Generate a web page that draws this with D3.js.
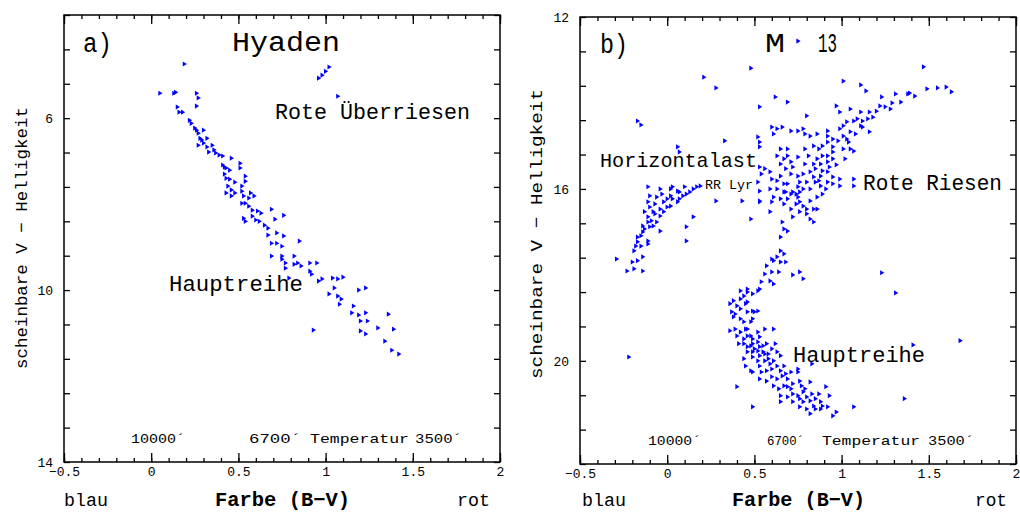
<!DOCTYPE html>
<html><head><meta charset="utf-8">
<script src="https://cdn.jsdelivr.net/npm/d3@7"></script>
<style>
body{margin:0;background:#fff}
svg{display:block}
text{font-family:"Liberation Mono","DejaVu Sans Mono",monospace;fill:#000}
</style>
</head><body>
<svg id="c" width="1020" height="514"></svg>
<script>
// ---------- tick labels ----------
const xTickValues = [-0.5, 0, 0.5, 1, 1.5, 2];
const xTickLabels = ["−0.5", "0", "0.5", "1", "1.5", "2"];
const leftYTicks = [3.6, 4.4, 5.2, 6, 6.8, 7.6, 8.4, 9.2, 10, 10.8, 11.6, 12.4, 13.2, 14];
const leftYLabelled = [6, 10, 14];
const rightYTicks = [12, 12.8, 13.6, 14.4, 15.2, 16, 16.8, 17.6, 18.4, 19.2, 20, 20.8, 21.6, 22.4];
const rightYLabelled = [12, 16, 20];
const tempLabels = ["10000´", "6700´", "Temperatur", "3500´"];

// ---------- data: Hyaden [B-V, V] ----------
const hyadenMS = [
[0.19,4.74],[0.05,5.42],[0.13,5.42],[0.14,5.40],[0.26,5.42],[0.27,5.53],[0.26,5.72],[0.15,5.74],
[0.16,5.86],[0.18,5.86],[0.22,6.05],[0.23,6.12],[0.25,6.23],[0.26,6.28],[0.27,6.35],[0.28,6.47],
[0.29,6.51],[0.32,6.47],[0.27,6.63],[0.30,6.58],[0.32,6.67],[0.33,6.79],[0.35,6.63],[0.37,6.81],
[0.39,6.86],[0.41,6.88],[0.46,6.93],[0.41,7.09],[0.42,7.14],[0.43,7.16],[0.51,7.05],[0.51,7.16],
[0.42,7.30],[0.43,7.40],[0.45,7.42],[0.54,7.35],[0.54,7.47],[0.44,7.58],[0.46,7.67],[0.48,7.74],
[0.43,7.74],[0.46,7.81],[0.52,7.58],[0.52,7.70],[0.53,7.81],[0.57,7.74],[0.59,7.81],[0.52,7.98],
[0.54,7.98],[0.56,8.05],[0.58,8.14],[0.61,8.16],[0.69,8.12],[0.53,8.33],[0.54,8.40],[0.58,8.28],
[0.60,8.37],[0.62,8.40],[0.65,8.49],[0.67,8.56],[0.71,8.35],[0.76,8.26],[0.67,8.72],[0.76,8.74],
[0.69,8.91],[0.72,8.91],[0.75,8.98],[0.85,8.86],[0.69,9.21],[0.75,9.21],[0.75,9.28],[0.77,9.37],
[0.77,9.49],[0.82,9.40],[0.84,9.37],[0.86,9.44],[0.91,9.37],[0.95,9.37],[0.79,9.72],[0.91,9.56],
[0.92,9.63],[0.96,9.79],[0.98,9.74],[1.04,9.72],[1.07,9.74],[1.10,9.70],[1.02,10.09],[1.07,10.14],
[1.09,10.21],[1.08,10.33],[1.19,10.00],[1.23,9.95],[1.15,10.53],[1.19,10.58],[1.20,10.72],[1.23,10.53],
[1.24,10.72],[1.20,10.95],[1.23,11.02],[1.36,10.56],[1.30,10.88],[1.39,10.91],[0.93,10.93],[1.34,11.19],
[1.38,11.40],[1.42,11.49],[0.45,7.21],[0.48,7.49],[0.63,8.21],[0.56,7.86],[0.82,9.21],[0.30,6.28],
[0.36,6.74],[0.72,8.67],[1.05,9.95],[1.16,10.37]
];
const hyadenGiants = [[0.96,5.07],[0.98,5.00],[1.00,4.91],[1.02,4.81],[1.07,5.49]];

// ---------- data: M 13 [B-V, V] ----------
const m13Giants = [
[0.62,13.86],[1.01,13.49],[1.11,13.58],[1.14,13.72],[1.23,13.86],[1.31,13.79],[1.38,13.79],[1.39,13.77],
[1.47,13.16],[1.49,13.67],[1.55,13.65],[1.60,13.63],[1.63,13.74],[0.69,13.98],[0.53,14.09],[0.97,14.07],
[0.99,14.21],[1.05,14.14],[0.80,14.30],[1.22,14.07],[1.25,14.09],[1.29,14.00],[1.20,14.19],[1.16,14.21],
[1.11,14.21],[1.12,14.42],[1.09,14.37],[1.07,14.42],[1.11,14.53],[1.15,14.37],[1.16,14.67],[1.01,14.53],
[1.03,14.44],[0.99,14.60],[1.01,14.77],[1.05,14.67],[0.98,14.88],[1.03,14.84],[0.60,14.56],[0.63,14.60],
[0.66,14.56],[0.61,14.72],[0.71,14.65],[0.75,14.65],[0.78,14.60],[0.79,14.72],[0.82,14.77],[0.86,14.72],
[0.92,14.65],[0.92,14.77],[0.95,14.84],[0.52,14.79],[0.53,14.91],[0.53,15.02],[0.06,15.02],[0.07,15.14],
[0.65,15.07],[0.69,15.07],[0.63,15.23],[0.67,15.30],[0.69,15.23],[0.71,15.37],[0.65,15.42],[0.68,15.53],
[0.72,15.49],[0.75,15.26],[0.84,15.00],[0.87,15.07],[0.89,15.00],[0.92,14.91],[0.95,15.02],[0.95,15.14],
[0.92,15.23],[0.89,15.23],[0.86,15.30],[0.84,15.42],[0.88,15.42],[0.92,15.37],[0.95,15.30],[1.01,15.07],
[1.05,15.07],[1.07,15.12],[0.53,15.49],[0.56,15.53],[0.54,15.65],[0.59,15.60],[0.60,15.77],[0.75,15.70],
[0.78,15.65],[0.82,15.60],[0.84,15.72],[0.88,15.70],[0.92,15.60],[0.85,15.84],[0.80,15.84],[0.76,15.84],
[0.75,15.95],[0.78,16.00],[0.82,16.00],[0.88,15.93],[0.92,15.84],[0.95,15.72],[0.65,15.70],[0.63,15.81],
[0.67,15.88],[0.63,16.00],[0.67,16.07],[0.99,15.77],[0.99,15.93],[1.07,15.77],[1.07,15.93],[0.68,16.07],
[0.71,16.12],[0.72,16.07],[0.76,16.07],[0.65,16.23],[0.67,16.35],[0.69,16.23],[0.75,16.19],[0.76,16.30],
[0.78,16.40],[0.82,16.28],[0.84,16.47],[0.80,16.47],[0.76,16.53],[0.80,16.58],[0.86,16.47],[0.72,16.65],
[0.84,16.77],[0.59,16.00],[0.61,16.19],[0.60,16.30],[0.59,16.53],[0.53,16.05],[0.53,16.28],[0.43,16.28],
[0.48,16.70],[0.53,16.30],[0.52,15.84],[0.66,16.77],[0.67,16.93],[0.69,16.98],[0.65,17.12],[0.82,16.70],
[0.79,15.07],[0.81,15.23],[0.85,15.53],[0.89,15.58],[0.93,15.49],[0.97,15.44],[0.87,15.81],[0.91,16.00],
[0.95,15.88],[0.74,16.35],[0.71,16.47],[0.86,16.19],[0.89,16.12],[1.02,15.30],[1.04,14.91],[1.08,14.72],
[1.12,14.56],[1.18,14.33],[1.28,14.14],[1.34,13.98],[1.42,13.84],[0.79,15.42],[0.71,15.65],[0.69,15.88],
[0.74,16.12]
];
const m13HB = [
[-0.11,15.95],[-0.04,16.00],[-0.10,16.16],[-0.06,16.19],[0.03,15.95],[0.06,16.05],[0.07,16.07],[0.09,16.16],
[0.11,16.12],[0.13,16.07],[0.15,16.00],[0.17,15.95],[0.19,15.93],[-0.02,16.30],[0.00,16.23],[0.02,16.16],
[0.03,16.23],[0.06,16.30],[0.07,16.23],[0.00,16.42],[0.02,16.40],[-0.04,16.47],[-0.02,16.53],[-0.04,16.63],
[-0.11,16.30],[-0.10,16.42],[-0.08,16.53],[-0.11,16.65],[-0.09,16.74],[-0.06,16.77],[-0.08,16.86],[-0.13,16.53],
[-0.11,16.77],[-0.10,16.88],[0.15,16.65],[0.11,16.88],[-0.14,16.86],[-0.14,17.00],[-0.17,17.12],[-0.17,17.23],
[-0.11,17.21],[-0.11,17.28],[-0.18,17.33],[-0.15,17.33],[0.11,17.21],[-0.29,17.63],[-0.20,17.70],[-0.17,17.67],
[-0.14,17.58],[-0.23,17.91],[-0.19,17.86],[-0.14,17.91],[-0.04,16.98],
[-0.07,16.35],[-0.03,16.12],[0.02,16.00],[0.10,15.95],[-0.07,16.58],[-0.13,16.93],[-0.15,17.09],[-0.19,17.44]
];
const m13MS = [
[0.65,17.44],[0.67,17.51],[0.63,17.58],[0.61,17.67],[0.60,17.63],[0.65,17.70],[0.68,17.70],[0.57,17.79],
[0.60,17.93],[0.64,17.93],[0.59,18.14],[0.61,18.21],[0.72,18.00],[0.76,17.93],[0.78,18.09],[0.54,18.16],
[0.53,18.33],[0.52,18.37],[0.49,18.44],[0.46,18.40],[0.46,18.33],[0.42,18.37],[0.44,18.49],[0.36,18.67],
[0.38,18.60],[0.40,18.72],[0.42,18.79],[0.45,18.67],[0.46,18.63],[0.49,18.84],[0.50,18.86],[0.52,18.84],
[0.46,18.86],[0.37,18.86],[0.38,18.98],[0.42,19.02],[0.44,19.09],[0.48,19.09],[0.49,19.02],[0.36,19.30],
[0.39,19.26],[0.40,19.42],[0.42,19.33],[0.44,19.49],[0.46,19.26],[0.48,19.42],[0.49,19.49],[0.52,19.33],
[0.53,19.44],[0.56,19.26],[0.61,19.26],[0.44,19.60],[0.46,19.67],[0.48,19.65],[0.49,19.60],[0.52,19.56],
[0.53,19.67],[0.55,19.65],[0.57,19.60],[0.46,19.79],[0.49,19.79],[0.52,19.77],[0.55,19.79],[0.58,19.84],
[0.60,19.72],[0.63,19.79],[0.44,19.95],[0.45,20.12],[0.49,19.91],[0.52,20.00],[0.53,20.12],[0.56,20.00],
[0.58,19.95],[0.61,20.00],[0.65,19.88],[0.67,20.12],[0.63,20.12],[0.60,20.19],[0.57,20.23],[0.54,20.26],
[0.49,20.26],[0.48,20.23],[0.53,20.42],[0.57,20.47],[0.60,20.37],[0.63,20.42],[0.66,20.35],[0.69,20.42],
[0.71,20.26],[0.75,20.19],[0.75,20.26],[0.61,20.58],[0.64,20.65],[0.67,20.58],[0.69,20.60],[0.72,20.53],
[0.76,20.47],[0.77,20.58],[0.40,20.60],[0.65,20.81],[0.69,20.84],[0.72,20.77],[0.75,20.81],[0.78,20.72],
[0.80,20.84],[0.83,20.77],[0.82,20.49],[0.65,20.95],[0.72,20.95],[0.78,20.95],[0.82,20.93],[0.85,20.88],
[0.88,20.95],[0.89,21.05],[0.87,20.77],[0.91,20.60],[0.93,20.81],[0.76,21.07],[0.80,21.12],[0.82,21.23],
[0.84,21.05],[0.88,21.12],[0.92,21.07],[0.95,21.28],[0.97,21.19],[1.07,21.07],[0.49,21.07],[0.83,20.07],
[0.42,18.56],[0.39,18.91],[0.45,19.26],[0.50,19.72],[0.56,19.84],[0.59,20.07],[0.65,20.23],[0.68,20.30],
[0.71,20.65],[0.76,20.88],[0.85,21.12],[0.79,20.65],[0.53,19.88],[0.46,19.42],[0.41,19.60],[0.62,19.60],
[0.56,17.98]
];
const m13Field = [
[0.75,12.56],[0.21,13.40],[0.28,13.65],[0.48,13.19],[-0.22,19.91],[1.23,17.95],[1.31,18.42],[1.36,20.88],
[1.41,19.63],[1.68,19.53],[-0.17,14.42],[-0.15,14.51],[0.33,14.88],[0.28,16.28]
];

// ---------- drawing ----------
const svg = d3.select("#c");
const marker = "M-1.6,-2.6L2.6,0L-1.6,2.6Z";
const minorX = d3.range(-5, 21).map(i => i / 10);

function txt(g, s, x, y, size, len, opts = {}) {
  const t = g.append("text").attr("x", x).attr("y", y)
    .attr("font-size", size).text(s);
  if (len) t.attr("textLength", len).attr("lengthAdjust", "spacingAndGlyphs");
  if (opts.bold) t.attr("font-weight", "bold");
  if (opts.transform) t.attr("transform", opts.transform);
  if (opts.anchor) t.attr("text-anchor", opts.anchor);
  return t;
}

function panel(cfg) {
  const g = svg.append("g");
  const x = d3.scaleLinear().domain([-0.5, 2]).range([cfg.x0, cfg.x1]);
  const y = d3.scaleLinear().domain(cfg.yDomain).range([cfg.y0, cfg.y1]);

  const style = sel => {
    sel.select(".domain").remove();
    sel.selectAll("line").attr("stroke", "#000").attr("stroke-width", 1.3);
    sel.selectAll("text").attr("font-family", '"Liberation Mono","DejaVu Sans Mono",monospace')
      .attr("font-size", 13).attr("fill", "#000");
  };
  g.append("g").attr("transform", `translate(0,${cfg.y1})`)
    .call(d3.axisBottom(x).tickValues(minorX).tickSize(-4).tickFormat("")).call(style);
  g.append("g").attr("transform", `translate(0,${cfg.y1})`)
    .call(d3.axisBottom(x).tickValues(xTickValues).tickSize(-9).tickPadding(5)
      .tickFormat((d, i) => xTickLabels[i])).call(style);
  g.append("g").attr("transform", `translate(0,${cfg.y0})`)
    .call(d3.axisTop(x).tickValues(minorX).tickSize(-4).tickFormat("")).call(style);
  g.append("g").attr("transform", `translate(0,${cfg.y0})`)
    .call(d3.axisTop(x).tickValues(xTickValues).tickSize(-9).tickFormat("")).call(style);
  g.append("g").attr("transform", `translate(${cfg.x0},0)`)
    .call(d3.axisLeft(y).tickValues(cfg.yTicks).tickSize(-6).tickPadding(11)
      .tickFormat(d => cfg.yLabelled.some(v => Math.abs(v - d) < 1e-6) ? d3.format("d")(d) : ""))
    .call(style);
  g.append("g").attr("transform", `translate(${cfg.x1},0)`)
    .call(d3.axisRight(y).tickValues(cfg.yTicks).tickSize(-6).tickFormat("")).call(style);

  g.append("rect").attr("x", cfg.x0).attr("y", cfg.y0)
    .attr("width", cfg.x1 - cfg.x0).attr("height", cfg.y1 - cfg.y0)
    .attr("fill", "none").attr("stroke", "#000").attr("stroke-width", 1.5);

  cfg.series.forEach(arr => {
    g.append("g").selectAll("path").data(arr).join("path")
      .attr("d", marker)
      .attr("transform", d => `translate(${x(d[0])},${y(d[1])})`)
      .attr("fill", "#0000ff");
  });

  cfg.texts.forEach(t => txt(g, t[0], t[1], t[2], t[3], t[4], t[5] || {}));
  cfg.temps.forEach((p, i) => txt(g, tempLabels[i], p[0], cfg.tempY, 13, p[1]));
  return g;
}

panel({
  x0: 64, x1: 500, y0: 15, y1: 462, yDomain: [3.6, 14],
  yTicks: leftYTicks, yLabelled: leftYLabelled,
  series: [hyadenMS, hyadenGiants],
  tempY: 443,
  temps: [[131, 54], [249, 52], [310, 99], [415, 47]],
  texts: [
    ["a)", 83, 52, 27, 29],
    ["Hyaden", 232, 51, 27, 108],
    ["Rote Überriesen", 275, 119, 22, 195],
    ["Hauptreihe", 169, 291, 22, 134],
    ["blau", 64, 506, 19, 44],
    ["Farbe (B−V)", 215, 506, 20, 135, {bold: true}],
    ["rot", 457, 506, 19, 33],
    ["scheinbare V − Helligkeit", 0, 0, 17, 262, {transform: "translate(27,238) rotate(-90)", anchor: "middle"}]
  ]
});

panel({
  x0: 580, x1: 1016, y0: 17, y1: 464, yDomain: [12, 22.4],
  yTicks: rightYTicks, yLabelled: rightYLabelled,
  series: [m13Giants, m13HB, m13MS, m13Field],
  tempY: 445,
  temps: [[648, 53], [767, 37], [822, 98], [928, 46]],
  texts: [
    ["b)", 600, 53, 27, 28],
    ["M", 765, 52, 27, 20],
    ["13", 818, 52, 27, 19],
    ["Horizontalast", 600, 167, 21, 157],
    ["RR Lyr", 705, 189, 12, 48],
    ["Rote Riesen", 863, 190, 22, 139],
    ["Hauptreihe", 793, 362, 22, 132],
    ["blau", 582, 506, 19, 44],
    ["Farbe (B−V)", 732, 506, 20, 133, {bold: true}],
    ["rot", 975, 506, 19, 32],
    ["scheinbare V − Helligkeit", 0, 0, 17, 290, {transform: "translate(542,234) rotate(-90)", anchor: "middle"}]
  ]
});
</script>
</body></html>
